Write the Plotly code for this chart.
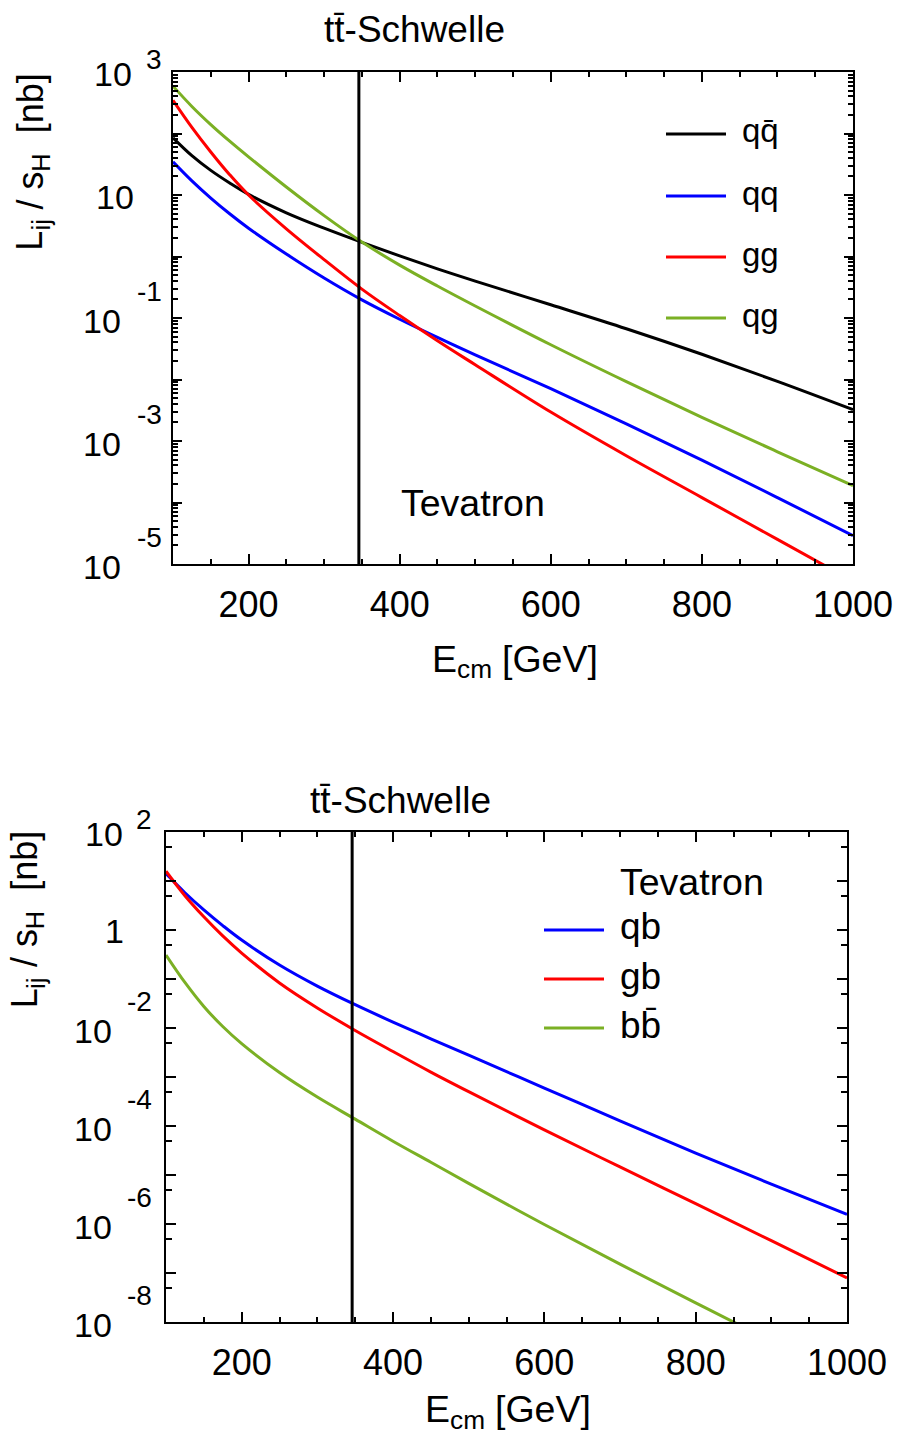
import numpy as np
import plotly.graph_objects as go

FONT = "Liberation Sans, Arial, Helvetica, sans-serif"
W, H = 899, 1439

# ---------------- data: Tevatron parton luminosities L_ij / s_H [nb] ----------------
# values are stored as log10 of the luminosity
E_TOP = [100, 125, 150, 175, 200, 250, 300, 350, 400, 450, 500, 600, 700, 800, 900, 1000]
LOG_QQBAR = [1.93, 1.64, 1.40, 1.195, 1.01, 0.71, 0.46, 0.23, 0.01, -0.20, -0.40, -0.785, -1.175, -1.59, -2.03, -2.49]
LOG_QQ = [1.54, 1.23, 0.95, 0.695, 0.46, 0.04, -0.35, -0.705, -1.02, -1.315, -1.60, -2.15, -2.72, -3.31, -3.92, -4.54]
LOG_GG = [2.54, 2.10, 1.70, 1.33, 1.00, 0.45, -0.05, -0.53, -0.96, -1.37, -1.76, -2.53, -3.24, -3.92, -4.60, -5.28]
LOG_QG = [2.77, 2.44, 2.145, 1.875, 1.62, 1.13, 0.665, 0.235, -0.14, -0.48, -0.805, -1.435, -2.035, -2.615, -3.175, -3.725]

E_BOT = [100, 125, 150, 175, 200, 250, 300, 350, 400, 450, 500, 600, 700, 800, 900, 1000]
LOG_QB = [1.15, 0.76, 0.41, 0.09, -0.205, -0.715, -1.145, -1.525, -1.88, -2.22, -2.555, -3.225, -3.895, -4.555, -5.185, -5.805]
LOG_GB = [1.20, 0.70, 0.27, -0.12, -0.47, -1.08, -1.59, -2.05, -2.48, -2.90, -3.30, -4.08, -4.835, -5.585, -6.34, -7.10]
LOG_BBBAR = [-0.51, -1.07, -1.56, -1.97, -2.32, -2.91, -3.41, -3.86, -4.31, -4.74, -5.17, -6.01, -6.82, -7.61, -8.39, -9.15]

TT_THRESHOLD = 346  # GeV, 2 m_t

X_TICKS = [200, 400, 600, 800, 1000]
TOP_DECADES = list(range(-5, 4))      # 1e-5 .. 1e3
BOT_DECADES = list(range(-8, 3))      # 1e-8 .. 1e2
TOP_LABEL_EXP = [3, 1, -1, -3, -5]
BOT_LABEL_EXP = [2, 0, -2, -4, -6, -8]

BLACK, BLUE, RED, GREEN = "#000000", "#0000ff", "#ff0000", "#7bb024"

TOP_SERIES = [("qq\u0304", LOG_QQBAR, BLACK), ("qq", LOG_QQ, BLUE),
              ("gg", LOG_GG, RED), ("qg", LOG_QG, GREEN)]
BOT_SERIES = [("qb", LOG_QB, BLUE), ("gb", LOG_GB, RED), ("bb\u0304", LOG_BBBAR, GREEN)]

fig = go.Figure()

for name, logy, color in TOP_SERIES:
    fig.add_trace(go.Scatter(
        x=E_TOP, y=10 ** np.array(logy), mode="lines", name=name, showlegend=False,
        line=dict(color=color, width=3, shape="spline", smoothing=1.0),
        xaxis="x", yaxis="y"))

for name, logy, color in BOT_SERIES:
    fig.add_trace(go.Scatter(
        x=E_BOT, y=10 ** np.array(logy), mode="lines", name=name, showlegend=False,
        line=dict(color=color, width=3, shape="spline", smoothing=1.0),
        xaxis="x2", yaxis="y2"))

# panel geometry in pixels
TOP = dict(l=173, r=853, t=72, b=564)
BOT = dict(l=166, r=847, t=832, b=1322)


def xdom(p):
    return [p["l"] / W, p["r"] / W]


def ydom(p):
    return [1 - p["b"] / H, 1 - p["t"] / H]


def xaxis_cfg(p, anchor):
    return dict(
        domain=xdom(p), anchor=anchor, range=[100, 1000], automargin=False,
        showline=True, linewidth=2, linecolor="black", mirror="allticks",
        ticks="inside", ticklen=10, tickwidth=2, tickcolor="black",
        tickvals=X_TICKS, ticktext=[str(v) for v in X_TICKS],
        tickfont=dict(family=FONT, size=36, color="black"),
        ticklabelstandoff=8,
        minor=dict(ticks="inside", ticklen=5, tickwidth=1.5, tickcolor="black",
                   dtick=50, tick0=100, showgrid=False),
        showgrid=False, zeroline=False,
    )


def yaxis_cfg(p, anchor, decades, minor_mult, major_len, minor_len):
    return dict(
        type="log", domain=ydom(p), anchor=anchor, automargin=False,
        range=[decades[0], decades[-1]],
        showline=True, linewidth=2, linecolor="black", mirror="allticks",
        ticks="inside", ticklen=major_len, tickwidth=2, tickcolor="black",
        tickvals=[10.0 ** k for k in decades], showticklabels=False,
        minor=dict(ticks="inside", ticklen=minor_len, tickwidth=1.5, tickcolor="black",
                   tickvals=[m * 10.0 ** k for k in decades[:-1] for m in minor_mult],
                   showgrid=False),
        showgrid=False, zeroline=False,
    )


fig.update_layout(
    template="none",
    width=W, height=H, margin=dict(l=0, r=0, t=0, b=0, autoexpand=False),
    paper_bgcolor="white", plot_bgcolor="white",
    font=dict(family=FONT, color="black"),
    xaxis=xaxis_cfg(TOP, "y"),
    yaxis=yaxis_cfg(TOP, "x", TOP_DECADES, range(2, 10), 9, 5),
    xaxis2=xaxis_cfg(BOT, "y2"),
    yaxis2=yaxis_cfg(BOT, "x2", BOT_DECADES, [5], 10, 6),
    showlegend=False,
)

# threshold lines
for xa, ya in (("x", "y"), ("x2", "y2")):
    fig.add_shape(type="line", xref=xa, yref=f"{ya} domain",
                  x0=TT_THRESHOLD, x1=TT_THRESHOLD, y0=0, y1=1,
                  line=dict(color="black", width=3))


def text(x, y, s, size, xanchor="center", yanchor="middle", xref="paper", yref="paper",
         yshift=0, angle=0):
    fig.add_annotation(x=x, y=y, text=s, xref=xref, yref=yref, showarrow=False,
                       xanchor=xanchor, yanchor=yanchor, yshift=yshift, textangle=angle,
                       font=dict(family=FONT, size=size, color="black"))


def px(x, y, s, size, **kw):
    """Place text using pixel coordinates measured from the top-left corner."""
    text(x / W, 1 - y / H, s, size, **kw)


# y tick labels in "10 / exponent" style
def ylabels(exps, yref, base_right, exp_right):
    for k in exps:
        if k == 0:
            text((base_right + 12) / W, 0, "1", 34, xanchor="right", yref=yref, yshift=-1)
        elif k == 1:
            text((base_right + 13) / W, 1, "10", 34, xanchor="right", yref=yref, yshift=-2)
        elif k > 1:
            text((base_right + 11) / W, k, "10", 34, xanchor="right", yref=yref, yshift=-2)
            text(exp_right / W, k, str(k), 28, xanchor="right", yref=yref, yshift=13)
        else:
            text(base_right / W, k, "10", 34, xanchor="right", yref=yref, yshift=-3)
            text(exp_right / W, k, str(k), 28, xanchor="right", yref=yref, yshift=27)


ylabels(TOP_LABEL_EXP, "y", 123, 164)
ylabels(BOT_LABEL_EXP, "y2", 114, 154)


# legends: short line sample followed by the channel name
def legend_rows(series, x0, x1, xtext, ys, size):
    for (name, _, color), yc in zip(series, ys):
        fig.add_shape(type="line", xref="paper", yref="paper",
                      x0=x0 / W, x1=x1 / W, y0=1 - yc / H, y1=1 - yc / H,
                      line=dict(color=color, width=3))
        px(xtext, yc, name, size, xanchor="left", yshift=3)


legend_rows(TOP_SERIES, 666, 726, 740, [134, 196, 257, 318], 33)
legend_rows(BOT_SERIES, 544, 604, 618, [930, 979, 1028], 37)

# titles and annotations
px(414, 30, "tt\u0304-Schwelle", 37)
px(400, 800, "tt\u0304-Schwelle", 37)
px(473, 503, "Tevatron", 37.5)
px(618, 882, "Tevatron", 37.5, xanchor="left")


# axis titles, built from main-size and subscript-size pieces
def x_title(left, yc):
    main, sub = 37.5, 26.25
    px(left, yc, "E", main, xanchor="left")
    px(left + 25.0, yc + 10.5, "cm", sub, xanchor="left")
    px(left + 70.4, yc, "[GeV]", main, xanchor="left")


def y_title(xc, ybottom):
    main, sub = 36, 25.2
    xs = xc + 11.3
    px(xc, ybottom - 10.0, "L", main, angle=-90)
    px(xs, ybottom - 25.6, "ij", sub, angle=-90)
    px(xc, ybottom - 60.2, "/ s", main, angle=-90)
    px(xs, ybottom - 88.3, "H", sub, angle=-90)
    px(xc, ybottom - 147.4, "[nb]", main, angle=-90)


x_title(430, 659)
x_title(423, 1409)
y_title(30, 250.7)
y_title(24.5, 1008.7)

fig.write_html("out.html")
